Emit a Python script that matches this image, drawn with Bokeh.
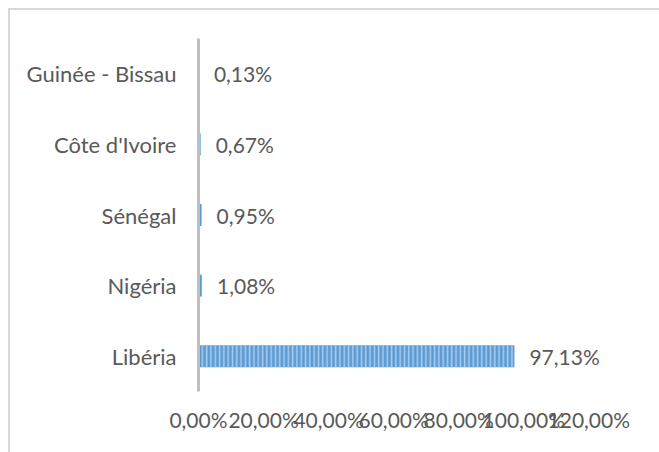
from bokeh.plotting import figure
from bokeh.models import ColumnDataSource, FactorRange, Range1d, FixedTicker
from bokeh.core.properties import value
from bokeh.embed import file_html
from bokeh.resources import INLINE

countries = ["Libéria", "Nigéria", "Sénégal", "Côte d'Ivoire", "Guinée - Bissau"]
shares = [97.13, 1.08, 0.95, 0.67, 0.13]
share_labels = ["97,13%", "1,08%", "0,95%", "0,67%", "0,13%"]
tick_values = [0, 20, 40, 60, 80, 100, 120]
tick_labels = ["0,00%", "20,00%", "40,00%", "60,00%", "80,00%", "100,00%", "120,00%"]

FONT = "Lato"
TXT = "#595959"

src = ColumnDataSource(dict(country=countries, share=shares, label=share_labels))

p = figure(width=651, height=444, output_backend="svg", toolbar_location=None,
           y_range=FactorRange(factors=countries, range_padding=0),
           x_range=Range1d(0, 140.5),
           min_border_left=188, min_border_right=6, min_border_top=28, min_border_bottom=63)

p.hbar(y="country", right="share", left=0, height=0.31, source=src,
       fill_color="#5b9bd5", line_color=None,
       hatch_pattern="vertical_line", hatch_color="#a8cbec", hatch_weight=1.6, hatch_scale=4.3)

p.text(x="share", y="country", text="label", source=src, x_offset=15,
       text_align="left", text_baseline="middle", text_color=TXT,
       text_font=value(FONT), text_font_size="21px")

p.grid.visible = False
p.outline_line_color = None
p.background_fill_color = "white"
p.border_fill_color = "white"

xa = p.xaxis[0]
xa.ticker = FixedTicker(ticks=tick_values)
xa.major_label_overrides = {v: l for v, l in zip(tick_values, tick_labels)}
xa.axis_line_color = None
xa.major_tick_line_color = None
xa.minor_tick_line_color = None
xa.major_label_standoff = 9
xa.major_label_text_font = FONT
xa.major_label_text_font_size = "21px"
xa.major_label_text_color = TXT

ya = p.yaxis[0]
ya.axis_line_color = "#bfbfbf"
ya.axis_line_width = 3
ya.major_tick_line_color = None
ya.minor_tick_line_color = None
ya.major_label_standoff = 16
ya.major_label_text_font = FONT
ya.major_label_text_font_size = "22px"
ya.major_label_text_color = TXT

p.styles = {"margin-left": "8px", "margin-top": "8px",
            "border-left": "2px solid #d9d9d9", "border-top": "2px solid #d9d9d9",
            "box-sizing": "border-box"}

open("out.html", "w").write(file_html(p, INLINE))
